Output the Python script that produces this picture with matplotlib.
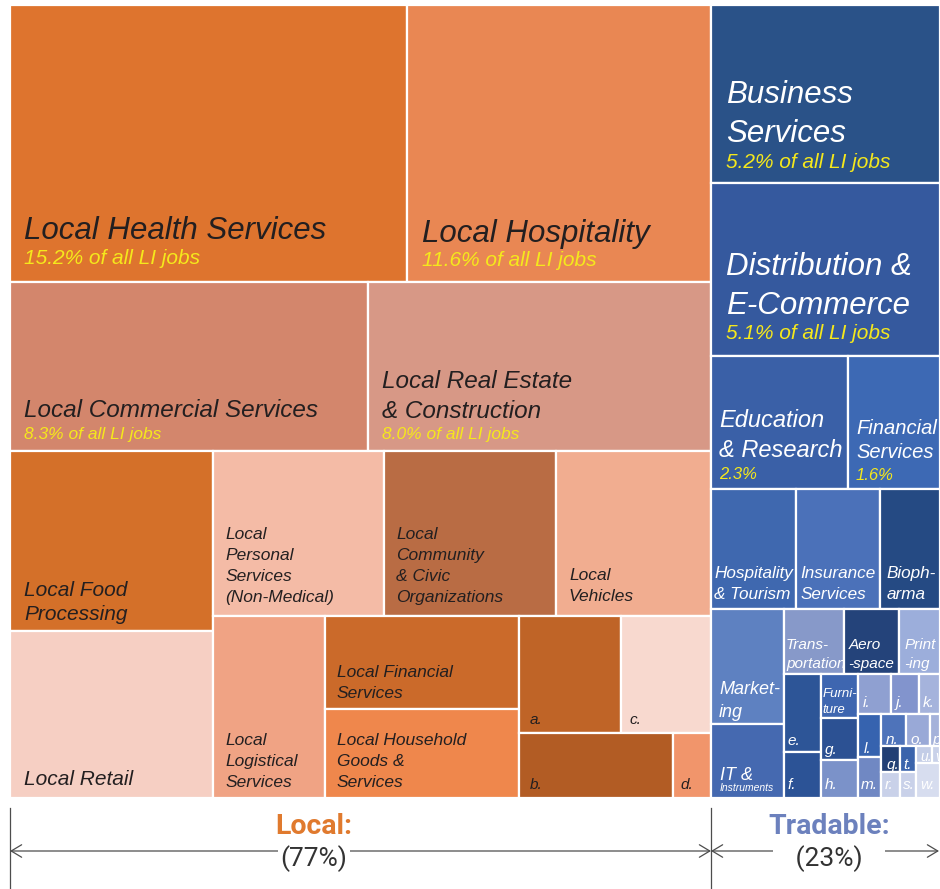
import matplotlib
matplotlib.use("Agg")
import matplotlib.pyplot as plt
from matplotlib.patches import Rectangle

# treemap cells: share of all LI jobs
local_names = ["health", "hospitality", "commercial", "realestate", "food", "retail",
               "personal", "community", "vehicles", "logistical", "finance",
               "household", "a", "c", "b", "d"]
local_shares = [14.93, 11.40, 8.215, 7.849, 4.955, 4.597, 3.826, 3.848, 3.468,
                2.752, 2.440, 2.360, 1.626, 1.420, 1.362, 0.331]

tradable_names = ["business", "distribution", "education", "finserv", "tourism",
                  "insurance", "biopharma", "marketing", "it", "transport", "aero",
                  "printing", "e", "f", "furniture", "g", "h", "i", "j", "k", "l",
                  "m", "n", "o", "p", "q", "r", "t", "s", "u", "v", "w"]
tradable_shares = [5.512, 5.387, 2.471, 1.659, 1.375, 1.367, 0.984, 1.143, 0.728,
                   0.533, 0.485, 0.357, 0.384, 0.230, 0.226, 0.214, 0.191, 0.179,
                   0.150, 0.110, 0.134, 0.129, 0.108, 0.106, 0.046, 0.067, 0.067,
                   0.058, 0.058, 0.036, 0.017, 0.113]

labels = {
    "health": "Local Health Services", "hospitality": "Local Hospitality",
    "commercial": "Local Commercial Services",
    "realestate": "Local Real Estate\n& Construction",
    "food": "Local Food\nProcessing", "retail": "Local Retail",
    "personal": "Local\nPersonal\nServices\n(Non-Medical)",
    "community": "Local\nCommunity\n& Civic\nOrganizations",
    "vehicles": "Local\nVehicles", "logistical": "Local\nLogistical\nServices",
    "finance": "Local Financial\nServices",
    "household": "Local Household\nGoods &\nServices",
    "business": "Business\nServices", "distribution": "Distribution &\nE-Commerce",
    "education": "Education\n& Research", "finserv": "Financial\nServices",
    "tourism": "Hospitality\n& Tourism", "insurance": "Insurance\nServices",
    "biopharma": "Bioph-\narma", "marketing": "Market-\ning", "it": "IT &",
    "transport": "Trans-\nportation", "aero": "Aero\n-space", "printing": "Print\n-ing",
    "furniture": "Furni-\nture",
}
subtitles = {
    "health": "15.2% of all LI jobs", "hospitality": "11.6% of all LI jobs",
    "commercial": "8.3% of all LI jobs", "realestate": "8.0% of all LI jobs",
    "business": "5.2% of all LI jobs", "distribution": "5.1% of all LI jobs",
    "education": "2.3%", "finserv": "1.6%", "it": "Instruments",
}
local_pct = 77
tradable_pct = 23

# how the cells are nested: 'h' = side by side, 'v' = stacked
local_tree = ("v", [
    ("h", ["health", "hospitality"]),
    ("h", ["commercial", "realestate"]),
    ("h", [("v", ["food", "retail"]),
           ("v", [("h", ["personal", "community", "vehicles"]),
                  ("h", ["logistical",
                         ("v", ["finance", "household"]),
                         ("v", [("h", ["a", "c"]), ("h", ["b", "d"])])])])]),
])
tradable_tree = ("v", [
    "business", "distribution",
    ("h", ["education", "finserv"]),
    ("h", ["tourism", "insurance", "biopharma"]),
    ("h", [("v", ["marketing", "it"]),
           ("v", [("h", ["transport", "aero", "printing"]),
                  ("h", [("v", ["e", "f"]),
                         ("v", ["furniture", "g", "h"]),
                         ("v", [("h", ["i", "j", "k"]),
                                ("h", [("v", ["l", "m"]),
                                       ("v", [("h", ["n", "o", "p"]),
                                              ("h", [("v", ["q", "r"]),
                                                     ("v", ["t", "s"]),
                                                     ("v", [("h", ["u", "v"]), "w"])])])])])])])]),
])
tree = ("h", [local_tree, tradable_tree])

colors = {
    "health": "#DE742E", "hospitality": "#E98753", "commercial": "#D3866C",
    "realestate": "#D79886", "food": "#D47029", "retail": "#F6CFC3",
    "personal": "#F4BBA6", "community": "#B96C44", "vehicles": "#F1AD90",
    "logistical": "#F0A384", "finance": "#CB6A2A", "household": "#EF874C",
    "a": "#BF6427", "c": "#F8D9CF", "b": "#B25C24", "d": "#F1956B",
    "business": "#2A5288", "distribution": "#35599E", "education": "#3A60A7",
    "finserv": "#3D69B4", "tourism": "#3F68AF", "insurance": "#4B71B9",
    "biopharma": "#254A83", "marketing": "#5E81C1", "it": "#4569B0",
    "transport": "#8799C9", "aero": "#24437A", "printing": "#9CAEDB",
    "e": "#2D5597", "f": "#2C5396", "furniture": "#3E66B0", "g": "#2C5193",
    "h": "#7B92C9", "i": "#8FA0D1", "j": "#8294CD", "k": "#A5B3DC",
    "l": "#3663AF", "m": "#7088C3", "n": "#4E73BA", "o": "#99A9D7",
    "p": "#A5B2DA", "q": "#223F74", "t": "#3B64AC", "r": "#C9D1E9",
    "s": "#C9D1E9", "u": "#C3CDE7", "v": "#C9D1E9", "w": "#D7DDEF",
}
label_size = {"health": 22.5, "hospitality": 22.5, "commercial": 17.5, "realestate": 17.5,
              "food": 15, "retail": 15, "business": 22.5, "distribution": 22.5,
              "education": 17, "finserv": 14.5, "tourism": 12.3, "insurance": 12.3,
              "biopharma": 12.3, "marketing": 13, "it": 13, "transport": 11,
              "aero": 11, "printing": 11, "furniture": 9.5, "u": 10, "v": 10}
sub_size = {"health": 15, "hospitality": 15, "commercial": 12.5, "realestate": 12.5,
            "business": 15, "distribution": 15, "education": 12, "finserv": 12,
            "it": 7.5}
sub_gap = {"health": 25, "hospitality": 24, "commercial": 21, "realestate": 20,
           "business": 25, "distribution": 25, "education": 22, "finserv": 22, "it": 11}
# (left padding, distance from cell bottom to last baseline), in pixels
pads = {"health": (14, 18), "hospitality": (15, 16), "commercial": (14, 13),
        "realestate": (14, 13), "food": (14, 11), "retail": (14, 13),
        "personal": (12, 15), "community": (12, 15), "vehicles": (13, 16),
        "logistical": (12, 12), "finance": (12, 11), "household": (12, 12),
        "a": (11, 9), "c": (8, 9), "b": (11, 9), "d": (7, 9),
        "business": (15, 15), "distribution": (15, 17), "education": (8, 10),
        "finserv": (8, 9), "tourism": (3, 11), "insurance": (5, 11),
        "biopharma": (7, 11), "marketing": (8, 7), "it": (9, 7),
        "transport": (2, 6), "aero": (4, 6), "printing": (5, 6),
        "e": (3, 7), "f": (3, 9), "furniture": (2, 5), "g": (4, 7), "h": (4, 9),
        "i": (5, 7), "j": (4, 7), "k": (3, 7), "l": (6, 4), "m": (3, 9),
        "n": (5, 2), "o": (5, 2), "p": (3, 2), "q": (5, 3), "r": (4, 9),
        "t": (3, 3), "s": (3, 9), "u": (4, 2), "v": (3, 2), "w": (4, 9)}

share = dict(zip(local_names + tradable_names, local_shares + tradable_shares))
local_set = set(local_names)


def total(node):
    if isinstance(node, str):
        return share[node]
    return sum(total(k) for k in node[1])


def layout(node, x0, y0, x1, y1, out):
    if isinstance(node, str):
        out[node] = (x0, y0, x1, y1)
        return
    d, kids = node
    tot = total(node)
    pos = x0 if d == "h" else y0
    for k in kids:
        frac = total(k) / tot
        if d == "h":
            w = (x1 - x0) * frac
            layout(k, pos, y0, pos + w, y1, out)
            pos += w
        else:
            h = (y1 - y0) * frac
            layout(k, x0, pos, x1, pos + h, out)
            pos += h


fig = plt.figure(figsize=(9.4, 8.89), dpi=100)
ax = fig.add_axes([0, 0, 1, 1])
ax.set_xlim(0, 940)
ax.set_ylim(889, 0)
ax.axis("off")

rects = {}
layout(tree, 10, 5, 940, 798, rects)

PX = 100 / 72.0
FONT = "Liberation Sans"


def put(x, base, s, fs, color, clip):
    # base = baseline of the last line; va bottom sits one descent lower
    ls = 1.38 if fs >= 14 else 1.5
    t = ax.text(x, base + 0.21 * fs * PX, s, fontsize=fs, color=color, ha="left",
                va="bottom", style="italic", family=FONT, linespacing=ls)
    t.set_clip_path(clip)


for name, (x0, y0, x1, y1) in rects.items():
    patch = Rectangle((x0, y0), x1 - x0, y1 - y0, facecolor=colors[name],
                      edgecolor="white", linewidth=1.6)
    ax.add_patch(patch)
    is_local = name in local_set
    txt_color = "#231F20" if is_local else "white"
    text = labels.get(name, name + ".")
    fs = label_size.get(name, 12.5 if name in labels else 11)
    px, py = pads[name]
    base = y1 - py
    if name in subtitles:
        sub_color = "white" if name == "it" else "#F5E81C"
        put(x0 + px, base, subtitles[name], sub_size[name], sub_color, patch)
        base -= sub_gap[name]
    put(x0 + px, base, text, fs, txt_color, patch)

# bottom brackets: Local vs Tradable
xl0 = rects["health"][0]
xmid = rects["business"][0]
xr = 939
ly = 851
line_c = "#4D4D4D"
for xv in (xl0, xmid):
    ax.plot([xv, xv], [808, 889], color=line_c, lw=0.9)
arrow = dict(arrowstyle="<->,head_length=0.75,head_width=0.45", color=line_c,
             lw=0.9, shrinkA=0, shrinkB=0)
ax.annotate("", xy=(xl0, ly), xytext=(xmid, ly), arrowprops=arrow)
ax.annotate("", xy=(xmid, ly), xytext=(xr, ly), arrowprops=arrow)

cl = 314
ct = 829
ax.text(cl, 826, "Local:", ha="center", va="center", fontsize=20.5,
        fontweight="bold", family="Roboto", color="#E07A2E")
ax.text(ct, 826, "Tradable:", ha="center", va="center", fontsize=20.5,
        fontweight="bold", family="Roboto", color="#6C81BD", zorder=5)
ax.text(cl, 859, f"({local_pct}%)", ha="center", va="center", fontsize=19,
        family="Roboto", color="#333333",
        bbox=dict(boxstyle="square,pad=0.1", fc="white", ec="none"))
ax.text(ct, 859, f"   ({tradable_pct}%)   ", ha="center", va="center", fontsize=19,
        family="Roboto", color="#333333",
        bbox=dict(boxstyle="square,pad=0.1", fc="white", ec="none"))

fig.savefig("out.png", dpi=100)
